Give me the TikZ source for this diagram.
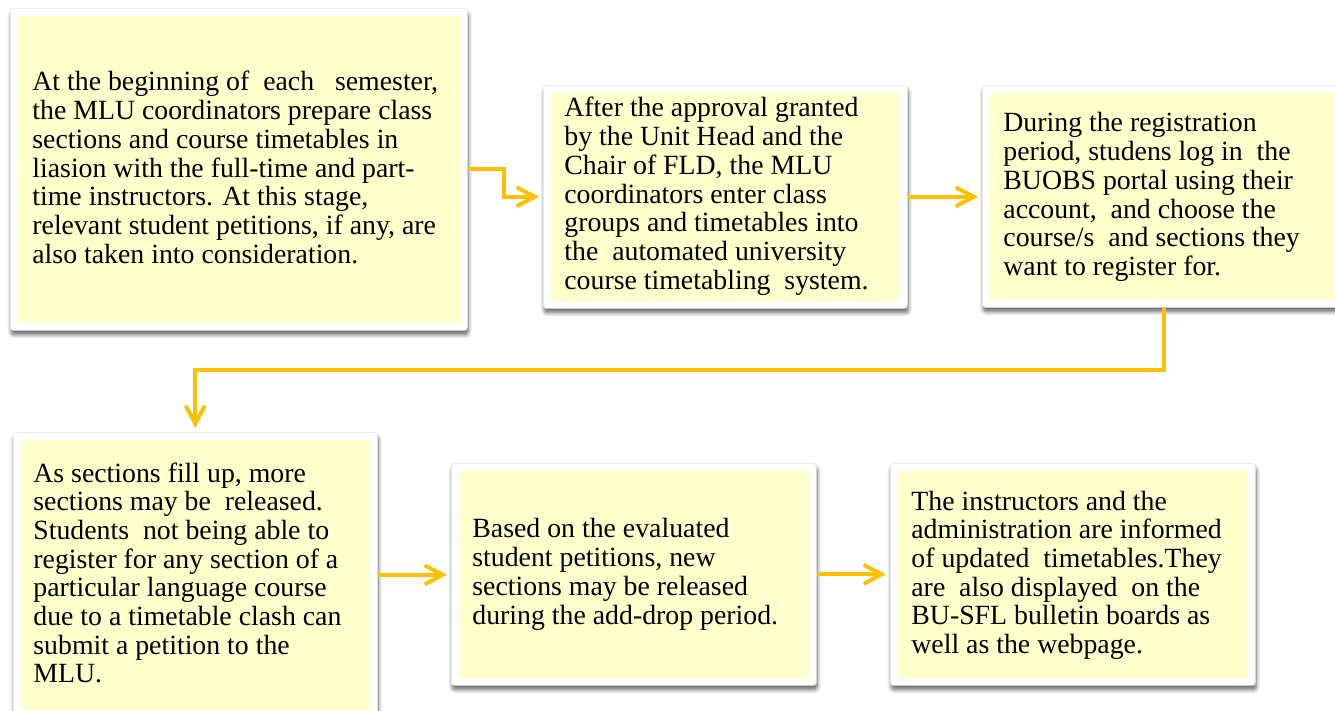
\documentclass[tikz,border=0pt]{standalone}
\usepackage{fontspec}
\setmainfont{Liberation Serif}
\usetikzlibrary{arrows.meta,shadows.blur}
\definecolor{paper}{RGB}{255,255,204}
\definecolor{gold}{RGB}{255,192,0}
% paragraph set with hand-placed line breaks, baseline of first line on top
\newcommand\steptext[1]{\parbox[t]{220pt}{\fontsize{13.9}{14.35}\selectfont\raggedright #1}}

\begin{document}
\begin{tikzpicture}[x=0.5pt,y=-0.5pt,
  frame/.style={anchor=north west, inner sep=0, fill=white, draw=black!10,
    line width=0.3pt, rounded corners=1.5pt,
    blur shadow={shadow xshift=0.5pt, shadow yshift=-2.2pt,
      shadow blur radius=2pt, shadow blur steps=6, shadow opacity=60}},
  txt/.style={anchor=base west, inner sep=0, text=black},
  flowarrow/.style={draw=gold, line width=2pt,
    -{Straight Barb[length=9pt,width=9.5pt]}, shorten >=2pt}]

\useasboundingbox (0,0) rectangle (1335,711);

% white frames with shadows
\node[frame, minimum width=228.5pt, minimum height=161pt] (b1) at (10,8) {};
\node[frame, minimum width=182pt, minimum height=111.5pt] (b2) at (543,85) {};
\node[frame, minimum width=182pt, minimum height=111pt] (b3) at (982,85) {};
\node[frame, minimum width=182pt, minimum height=142.5pt] (b4) at (13,432) {};
\node[frame, minimum width=182.5pt, minimum height=111pt] (b5) at (451,463) {};
\node[frame, minimum width=182.5pt, minimum height=111pt] (b6) at (890,463) {};

% pale yellow panels inside the frames
\foreach \b in {b1,b2,b3,b4,b5,b6}
  \fill[paper] ([shift={(8,8)}]\b.north west) rectangle ([shift={(-8,-8)}]\b.south east);

% step descriptions
\node[txt] (t1) at (32,91) {\steptext{At the beginning of\ \ each\ \ \ semester,\\
the MLU coordinators prepare class\\
sections and course timetables in\\
liasion with the full-time and part-\\
time instructors. At this stage,\\
relevant student petitions, if any, are\\
also taken into consideration.}};

\node[txt] (t2) at (564,117) {\steptext{After the approval granted\\
by the Unit Head and the\\
Chair of FLD, the MLU\\
coordinators enter class\\
groups and timetables into\\
the\ \ automated university\\
course timetabling\ \ system.}};

\node[txt] (t3) at (1003,132) {\steptext{During the registration\\
period, studens log in\ \ the\\
BUOBS portal using their\\
account,\ \ and choose the\\
course/s\ \ and sections they\\
want to register for.}};

\node[txt] (t4) at (33,482) {\steptext{As sections fill up, more\\
sections may be\ \ released.\\
Students\ \ not being able to\\
register for any section of a\\
particular language course\\
due to a timetable clash can\\
submit a petition to the\\
MLU.}};

\node[txt] (t5) at (472,538) {\steptext{Based on the evaluated\\
student petitions, new\\
sections may be released\\
during the add-drop period.}};

\node[txt] (t6) at (911,510) {\steptext{The instructors and the\\
administration are informed\\
of updated\ \ timetables.They\\
are\ \ also displayed\ \ on the\\
BU-SFL bulletin boards as\\
well as the webpage.}};

% flow connectors
\draw[flowarrow] (b1.east) -- ++(36,0) |- (b2.west);
\draw[flowarrow] (b2.east) -- (b2.east -| b3.west);
\draw[flowarrow] (b3.south) -- ++(0,62) -| (b4.north);
\draw[flowarrow] (b4.east) -- (b4.east -| b5.west);
\draw[flowarrow] (b5.east) -- (b5.east -| b6.west);

\end{tikzpicture}
\end{document}
